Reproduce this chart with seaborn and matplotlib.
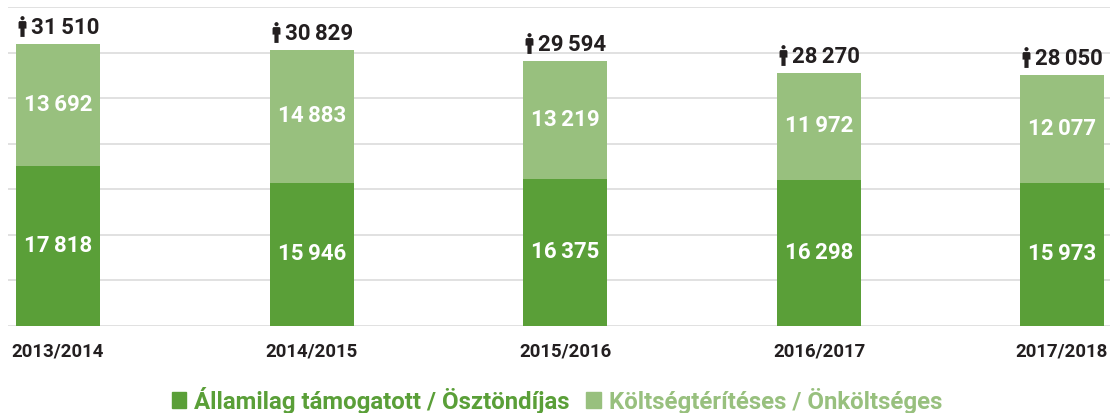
import matplotlib
matplotlib.use("Agg")
import matplotlib.pyplot as plt
import seaborn as sns
import pandas as pd
from matplotlib.path import Path
from matplotlib.patches import Patch
from matplotlib.ticker import MultipleLocator
from matplotlib.transforms import ScaledTranslation

# ========================
# DATA
# ========================
YEARS = ["2013/2014", "2014/2015", "2015/2016", "2016/2017", "2017/2018"]
STATE_FUNDED = [17818, 15946, 16375, 16298, 15973]
SELF_FUNDED = [13692, 14883, 13219, 11972, 12077]
TOTALS = [31510, 30829, 29594, 28270, 28050]
STATE_LABEL = "Államilag támogatott / Ösztöndíjas"
SELF_LABEL = "Költségtérítéses / Önköltséges"

# ========================
# STYLE
# ========================
DARK_GREEN = "#5a9f38"
LIGHT_GREEN = "#98c07e"
TEXT_COLOR = "#231f20"
GRID_COLOR = "#dcdcdc"
W, H = 1110, 413
SLOT_PX = 253.7  # bar spacing, the last bar sits a bit closer in the original
SLOTS = [0, 1, 2, 3, 3.957]
VALUE_SIZE = 16

sns.set_theme(style="white")
plt.rcParams["font.family"] = ["Roboto", "DejaVu Sans"]


def fmt(value):
    return f"{value:,}".replace(",", "\u2009")


def person_marker():
    # head plus body, drawn in unit coordinates
    k = 0.55
    r = 0.2
    verts = [(0, 1.0), (k * r, 1.0), (r, 0.8 + k * r), (r, 0.8),
             (r, 0.8 - k * r), (k * r, 0.6), (0, 0.6),
             (-k * r, 0.6), (-r, 0.8 - k * r), (-r, 0.8),
             (-r, 0.8 + k * r), (-k * r, 1.0), (0, 1.0)]
    codes = [Path.MOVETO] + [Path.CURVE4] * 12
    body = [(-0.3, 0.52), (0.3, 0.52), (0.38, 0.4), (0.38, -0.2), (0.2, -0.2),
            (0.2, -1.0), (-0.2, -1.0), (-0.2, -0.2), (-0.38, -0.2), (-0.38, 0.4), (-0.3, 0.52)]
    codes += [Path.MOVETO] + [Path.LINETO] * 9 + [Path.CLOSEPOLY]
    return Path(verts + body, codes)


df = pd.DataFrame({"slot": SLOTS, "state": STATE_FUNDED, "self": SELF_FUNDED})

fig = plt.figure(figsize=(W / 100, H / 100), dpi=100)
ax = fig.add_axes([8 / W, 1 - 325.5 / H, (W - 8) / W, (325.5 - 7) / H])

sns.barplot(data=df, x="slot", y="state", native_scale=True, color=DARK_GREEN,
            saturation=1, width=84 / 243, ax=ax, zorder=3, linewidth=0)
sns.barplot(data=df, x="slot", y="self", native_scale=True, color=LIGHT_GREEN,
            saturation=1, width=84 / 243, bottom=df["state"], ax=ax, zorder=3, linewidth=0)

ax.set_xlim(-50 / SLOT_PX, (W - 58) / SLOT_PX)
ax.set_ylim(0, 35600)
ax.yaxis.set_major_locator(MultipleLocator(5085))
ax.grid(True, axis="y", color=GRID_COLOR, linewidth=1.2, zorder=0)
ax.set_axisbelow(True)
sns.despine(ax=ax, left=True, bottom=True)
ax.set_xlabel("")
ax.set_ylabel("")
ax.tick_params(axis="y", left=False, labelleft=False)
ax.tick_params(axis="x", bottom=False, pad=6.5)
ax.set_xticks(SLOTS)
ax.set_xticklabels(YEARS, fontsize=13.4, fontweight="bold", color=TEXT_COLOR)

renderer = fig.canvas.get_renderer()
for slot, state, other, total in zip(SLOTS, STATE_FUNDED, SELF_FUNDED, TOTALS):
    ax.text(slot, state / 2, fmt(state), ha="center", va="center", color="white",
            fontsize=VALUE_SIZE, fontweight="bold", zorder=4)
    ax.text(slot, state + other / 2, fmt(other), ha="center", va="center", color="white",
            fontsize=VALUE_SIZE, fontweight="bold", zorder=4)
    label = ax.annotate(fmt(total), (slot, total), xytext=(5, 11), textcoords="offset points",
                        ha="center", va="center", color=TEXT_COLOR, fontsize=VALUE_SIZE,
                        fontweight="bold")
    # the icon sits just left of the number, whatever its width
    left_px = label.get_window_extent(renderer).x0
    slot_px = ax.transData.transform((slot, total))[0]
    icon_shift = ScaledTranslation((left_px - 9 - slot_px) / 100, 18 / 100, fig.dpi_scale_trans)
    ax.plot([slot], [total], marker=person_marker(), markersize=15, color=TEXT_COLOR,
            markeredgewidth=0, transform=ax.transData + icon_shift, clip_on=False, zorder=4)

handles = [Patch(color=DARK_GREEN, label=STATE_LABEL), Patch(color=LIGHT_GREEN, label=SELF_LABEL)]
legend = fig.legend(handles=handles, loc="center", bbox_to_anchor=(557 / W, 1 - 400 / H), ncol=2,
                    frameon=False, fontsize=17.3, handlelength=0.6, handleheight=0.6,
                    handletextpad=0.33, columnspacing=0.68, borderaxespad=0, borderpad=0)
for text, color in zip(legend.get_texts(), [DARK_GREEN, LIGHT_GREEN]):
    text.set_color(color)
    text.set_fontweight("bold")

fig.savefig("out.png", dpi=100)
